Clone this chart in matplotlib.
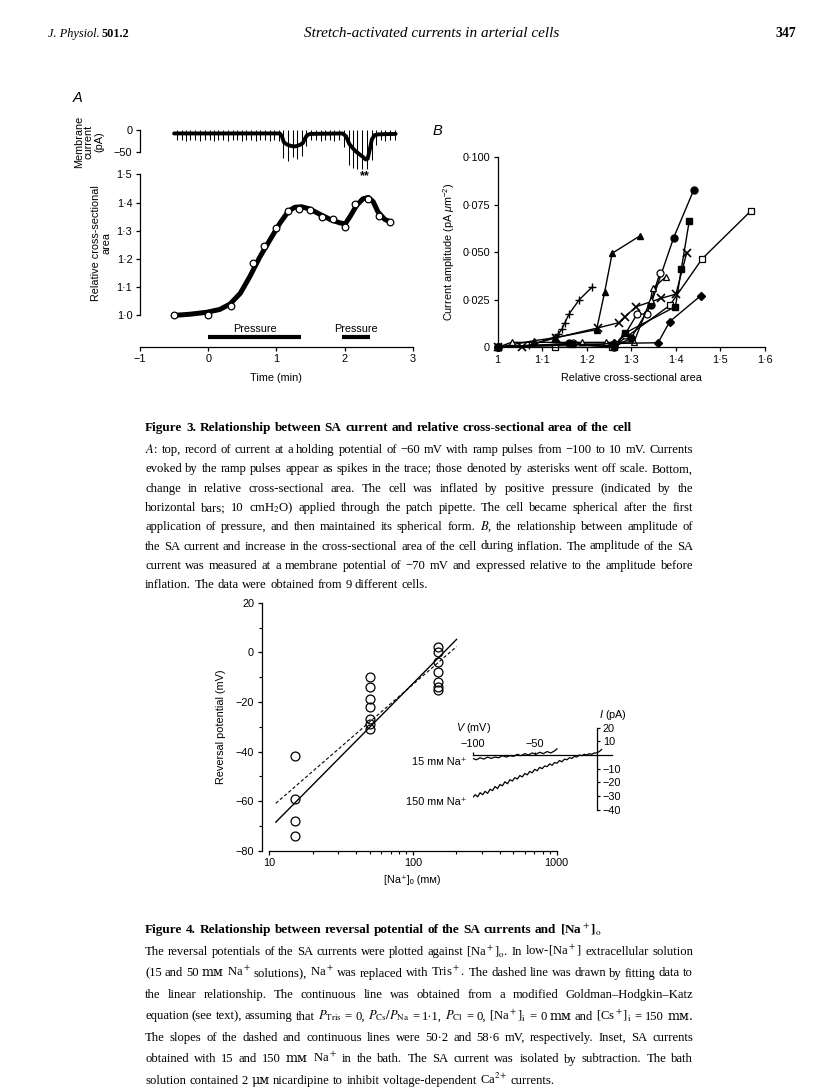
import matplotlib
matplotlib.use("Agg")
import matplotlib.pyplot as plt

W, H = 816, 1088

# ---------------- Figure 3A, top: membrane current (pA) vs time (min)
trace_t = [-0.5, 1.05, 1.08, 1.11, 1.15, 1.2, 1.25, 1.3, 1.35, 1.39, 1.42, 1.45, 1.5,
           1.97, 2.02, 2.07, 2.12, 2.17, 2.22, 2.27, 2.31, 2.34, 2.37, 2.4, 2.44, 2.5, 2.75]
trace_i = [-8, -8, -14, -28, -33, -36, -38, -37, -34, -30, -20, -12, -9,
           -8, -14, -32, -42, -50, -56, -62, -68, -66, -45, -22, -12, -10, -9]
spike_t = [-0.46, -0.39, -0.32, -0.26, -0.19, -0.12, -0.05, 0.02, 0.08, 0.15, 0.22, 0.29,
           0.36, 0.42, 0.49, 0.56, 0.63, 0.70, 0.76, 0.83, 0.90, 0.97, 1.04, 1.10, 1.17, 1.24,
           1.31, 1.38, 1.44, 1.51, 1.58, 1.65, 1.72, 1.78, 1.85, 1.92, 1.99, 2.06, 2.12, 2.19,
           2.26, 2.33, 2.40, 2.46, 2.53, 2.60, 2.67, 2.74]
spike_low = [-24, -23, -25, -24, -23, -25, -24, -24, -25, -23, -24, -25, -24, -23, -25, -24,
             -24, -25, -23, -24, -25, -24, -26, -64, -72, -62, -68, -60, -38, -24, -23, -25,
             -24, -24, -25, -23, -40, -80, -88, -90, -90, -89, -70, -35, -24, -25, -23, -24]
spike_top = -1

# ---------------- Figure 3A, bottom: relative cross-sectional area
area_t = [-0.5, 0.0, 0.33, 0.66, 0.82, 1.0, 1.17, 1.33, 1.5, 1.67, 1.83, 2.0, 2.16, 2.34, 2.5, 2.67]
area_v = [1.0, 1.002, 1.032, 1.187, 1.245, 1.31, 1.371, 1.377, 1.372, 1.349, 1.342, 1.314,
          1.396, 1.414, 1.353, 1.331]
fit_t = [-0.5, -0.27, -0.02, 0.17, 0.32, 0.47, 0.61, 0.76, 0.91, 1.05, 1.18, 1.27, 1.37, 1.49,
         1.64, 1.79, 1.93, 2.01, 2.08, 2.18, 2.27, 2.35, 2.42, 2.49, 2.59, 2.67]
fit_v = [1.0, 1.004, 1.011, 1.021, 1.04, 1.078, 1.137, 1.208, 1.269, 1.326, 1.37, 1.383, 1.385,
         1.377, 1.358, 1.34, 1.328, 1.324, 1.35, 1.391, 1.413, 1.418, 1.403, 1.367, 1.34, 1.332]
press_on = [0.0, 1.97]
press_off = [1.36, 2.37]

# ---------------- Figure 3B: current amplitude vs relative area (9 cells)
b_plus_x = [1.0, 1.07, 1.125, 1.136, 1.144, 1.151, 1.16, 1.183, 1.211]
b_plus_y = [0, 0.001, 0.005, 0.007, 0.0095, 0.013, 0.0175, 0.025, 0.0315]
b_trif_x = [1.0, 1.082, 1.128, 1.222, 1.24, 1.257, 1.319]
b_trif_y = [0, 0.0035, 0.005, 0.0093, 0.029, 0.0495, 0.0586]
b_cross_x = [1.0, 1.055, 1.13, 1.225, 1.272, 1.285, 1.311, 1.367, 1.40, 1.424]
b_cross_y = [0, 0.0, 0.005, 0.0102, 0.013, 0.016, 0.0214, 0.0258, 0.028, 0.0495]
b_circf_x = [1.0, 1.16, 1.26, 1.30, 1.343, 1.395, 1.44]
b_circf_y = [0, 0.002, 0.0, 0.005, 0.022, 0.0577, 0.0828]
b_sqo_x = [1.0, 1.128, 1.257, 1.386, 1.459, 1.568]
b_sqo_y = [0, 0.0, 0.0, 0.022, 0.0466, 0.0717]
b_circo_x = [1.0, 1.17, 1.262, 1.285, 1.313, 1.335, 1.364]
b_circo_y = [0, 0.002, 0.001, 0.0065, 0.0175, 0.0175, 0.039]
b_trio_x = [1.0, 1.031, 1.19, 1.243, 1.306, 1.343, 1.348, 1.377]
b_trio_y = [0, 0.0026, 0.0026, 0.0026, 0.0028, 0.025, 0.031, 0.037]
b_dia_x = [1.0, 1.26, 1.36, 1.386, 1.456]
b_dia_y = [0, 0.002, 0.0024, 0.0135, 0.0272]
b_sqf_x = [1.0, 1.166, 1.26, 1.285, 1.399, 1.412, 1.43]
b_sqf_y = [0, 0.0016, 0.0003, 0.0074, 0.0214, 0.041, 0.0665]

# ---------------- Figure 4: reversal potential vs [Na]o
na_x = [15, 15, 15, 15, 50, 50, 50, 50, 50, 50, 50, 150, 150, 150, 150, 150, 150, 150]
erev = [-42, -59, -68, -74, -10, -14, -19, -22, -27, -29, -31, 2, 0, -4, -8, -12, -14, -15]
solid_x = [11.1, 201]
solid_y = [-68.5, 5.2]
dash_x = [11.1, 201]
dash_y = [-60.9, 2.3]

# inset I-V traces
v15 = [-100, -97, -94, -91, -88, -85, -82, -79, -76, -73, -70, -67, -64, -61, -58, -55,
       -52, -49, -46, -43, -40, -37, -34, -32]
i15 = [-2.5, -3.5, -2.0, -3.0, -1.5, -2.5, -1.5, -2.0, -0.5, -1.5, -0.5, -1.0, 0.5, -0.5,
       1.0, 0.0, 1.5, 0.5, 2.0, 1.0, 2.5, 1.5, 3.0, 4.5]
v150 = [-100, -98, -96, -94, -92, -90, -88, -86, -84, -82, -80, -78, -76, -74, -72, -70,
        -68, -66, -64, -62, -60, -58, -56, -54, -52, -50, -48, -46, -44, -42, -40, -38,
        -36, -34, -32, -30, -28, -26, -24, -22, -20, -18, -16, -14, -12, -10, -8, -6, -4,
        -2, 0, 2, 4]
i150 = [-31, -29, -30.5, -27.5, -29, -26.5, -28, -25, -26, -23, -24.5, -21.5, -22.5, -19.5,
        -21, -18, -19, -16.5, -17.5, -15, -16, -13.5, -14.5, -12, -13, -10.5, -11.5, -9, -10,
        -8, -8.5, -6.5, -7.5, -5.5, -6, -4, -5, -3, -3.5, -2, -2.5, -1, -1.5, 0, -0.5, 0.5,
        0, 1, 0.5, 1.5, 1.5, 2.5, 4]

# ---------------- captions
fig3_title = "Figure 3. Relationship between SA current and relative cross-sectional area of the cell"
fig3_body = [
    "$A$: top, record of current at a holding potential of −60 mV with ramp pulses from −100 to 10 mV. Currents",
    "evoked by the ramp pulses appear as spikes in the trace; those denoted by asterisks went off scale. Bottom,",
    "change in relative cross-sectional area. The cell was inflated by positive pressure (indicated by the",
    "horizontal bars; 10 cmH$_2$O) applied through the patch pipette. The cell became spherical after the first",
    "application of pressure, and then maintained its spherical form. $B$, the relationship between amplitude of",
    "the SA current and increase in the cross-sectional area of the cell during inflation. The amplitude of the SA",
    "current was measured at a membrane potential of −70 mV and expressed relative to the amplitude before",
    "inflation. The data were obtained from 9 different cells.",
]
fig4_title = "Figure 4. Relationship between reversal potential of the SA currents and [Na$^+$]$_\\mathrm{o}$"
fig4_body = [
    "The reversal potentials of the SA currents were plotted against [Na$^+$]$_\\mathrm{o}$. In low-[Na$^+$] extracellular solution",
    "(15 and 50 mᴍ Na$^+$ solutions), Na$^+$ was replaced with Tris$^+$. The dashed line was drawn by fitting data to",
    "the linear relationship. The continuous line was obtained from a modified Goldman–Hodgkin–Katz",
    "equation (see text), assuming that $P_\\mathrm{Tris}$ = 0, $P_\\mathrm{Cs}/P_\\mathrm{Na}$ = 1·1, $P_\\mathrm{Cl}$ = 0, [Na$^+$]$_\\mathrm{i}$ = 0 mᴍ and [Cs$^+$]$_\\mathrm{i}$ = 150 mᴍ.",
    "The slopes of the dashed and continuous lines were 50·2 and 58·6 mV, respectively. Inset, SA currents",
    "obtained with 15 and 150 mᴍ Na$^+$ in the bath. The SA current was isolated by subtraction. The bath",
    "solution contained 2 μᴍ nicardipine to inhibit voltage-dependent Ca$^{2+}$ currents.",
]

plt.rcParams['font.family'] = ['Liberation Sans', 'DejaVu Sans']
plt.rcParams['font.size'] = 7.8
plt.rcParams['mathtext.fontset'] = 'custom'
plt.rcParams['mathtext.rm'] = 'Liberation Sans'
plt.rcParams['mathtext.it'] = 'Liberation Sans:italic'
plt.rcParams['axes.linewidth'] = 0.9
for a in ('xtick', 'ytick'):
    plt.rcParams[a + '.major.width'] = 0.9
    plt.rcParams[a + '.minor.width'] = 0.8
    plt.rcParams[a + '.major.size'] = 3
    plt.rcParams[a + '.minor.size'] = 2
    plt.rcParams[a + '.major.pad'] = 2.5

fig = plt.figure(figsize=(W / 100, H / 100), dpi=100)
X0, X1 = 145, 693
TITLE_W = 487
rend = fig.canvas.get_renderer()


def px_axes(x0, y0, x1, y1):
    return fig.add_axes([x0 / W, 1 - y1 / H, (x1 - x0) / W, (y1 - y0) / H])


def ftext(x, y, s, **kw):
    return fig.text(x / W, 1 - y / H, s, **kw)


def plain(ax):
    ax.spines['top'].set_visible(False)
    ax.spines['right'].set_visible(False)
    ax.patch.set_visible(False)


def serif_for(word):
    # only the few words with small-cap M or mu need the DejaVu fallback
    if any(c in word for c in 'ᴍμ'):
        return ['DejaVu Serif', 'DejaVu Sans']
    return 'Liberation Serif'


def make_word(w, y, size, **kw):
    return ftext(0, y, w, fontsize=size, family=serif_for(w), math_fontfamily='stix',
                 va='baseline', ha='left', **kw)


def word_widths(s, size, **kw):
    out = []
    for w in s.split(' '):
        t = make_word(w, 0, size, **kw)
        out.append(t.get_window_extent(rend).width)
        t.remove()
    return out


def fit_size(lines, cap, min_space=0.24):
    # largest common size at which every justified line still fits
    best = cap
    for s in lines:
        ws = word_widths(s, 10)
        need = sum(ws) + min_space * 10 * 100 / 72 * (len(ws) - 1)
        best = min(best, 10 * (X1 - X0) / need)
    return round(best, 2)


def caption_line(s, y, size, justify=True, **kw):
    objs = [make_word(w, y, size, **kw) for w in s.split(' ')]
    widths = [t.get_window_extent(rend).width for t in objs]
    if justify and len(objs) > 1:
        gap = (X1 - X0 - sum(widths)) / (len(objs) - 1)
    else:
        gap = size * 100 / 72 * 0.27
    x = X0
    for t, w in zip(objs, widths):
        t.set_x(x / W)
        x += w + gap


# ---- page header
hj = ftext(48, 37, "J. Physiol.", family='Liberation Serif', style='italic', fontsize=8.8, va='baseline')
hx = 48 + hj.get_window_extent(rend).width + 2
ftext(hx, 37, "501.2", family='Liberation Serif', weight='bold', fontsize=8.8, va='baseline')
ftext(432, 37, "Stretch-activated currents in arterial cells", family='Liberation Serif',
      style='italic', fontsize=11, ha='center', va='baseline')
ftext(796, 37, "347", family='Liberation Serif', weight='bold', fontsize=10, ha='right', va='baseline')

ftext(78, 98, "A", style='italic', fontsize=10.5, ha='center', va='center')
ftext(437, 131, "B", style='italic', fontsize=10.5, ha='center', va='center')

# ---- Fig 3A top
ax1 = px_axes(140, 118, 412.7, 172)
plain(ax1)
ax1.spines['bottom'].set_visible(False)
ax1.set_xlim(-1, 3)
ax1.set_ylim(-96.8, 27.6)
ax1.spines['left'].set_bounds(-50, 0)
ax1.set_xticks([])
ax1.set_yticks([0, -50], ['0', '−50'])
ax1.plot(trace_t, trace_i, color='k', lw=2.8, solid_joinstyle='round', solid_capstyle='round')
ax1.vlines(spike_t, spike_low, spike_top, color='k', lw=0.75, clip_on=False)
ax1.text(2.30, -106, "**", ha='center', va='center', fontsize=9, weight='bold')
ftext(89, 141.7, "Membrane\ncurrent\n(pA)", rotation=90, ha='center', va='center',
      multialignment='center', linespacing=1.0)

# ---- Fig 3A bottom
ax2 = px_axes(140, 174.3, 412.7, 346.7)
plain(ax2)
ax2.set_xlim(-1, 3)
ax2.set_ylim(0.889, 1.5)
ax2.spines['left'].set_bounds(1.0, 1.5)
ax2.set_xticks([-1, 0, 1, 2, 3], ['−1', '0', '1', '2', '3'])
ax2.set_yticks([1.0, 1.1, 1.2, 1.3, 1.4, 1.5], ['1·0', '1·1', '1·2', '1·3', '1·4', '1·5'])
ax2.plot(fit_t, fit_v, color='k', lw=3.6, solid_joinstyle='round', solid_capstyle='round')
ax2.plot(area_t, area_v, 'o', ms=4.8, mfc='white', mec='k', mew=0.9, clip_on=False)
ax2.hlines([0.924] * len(press_on), press_on, press_off, color='k', lw=3)
for a, b in zip(press_on, press_off):
    ax2.text((a + b) / 2, 0.951, "Pressure", ha='center', va='center')
ftext(276, 378, "Time (min)", ha='center', va='center')
ftext(101, 243, "Relative cross-sectional\narea", rotation=90, ha='center', va='center',
      multialignment='center', linespacing=1.05)

# ---- Fig 3B
ax3 = px_axes(497.7, 157.3, 765, 347.3)
plain(ax3)
ax3.set_xlim(1, 1.6)
ax3.set_ylim(0, 0.1)
ax3.set_xticks([1, 1.1, 1.2, 1.3, 1.4, 1.5, 1.6], ['1', '1·1', '1·2', '1·3', '1·4', '1·5', '1·6'])
ax3.set_yticks([0, 0.025, 0.05, 0.075, 0.1], ['0', '0·025', '0·050', '0·075', '0·100'])
kw = dict(color='k', lw=1.0, clip_on=False)
ax3.plot(b_plus_x, b_plus_y, marker='+', ms=6, mew=1.0, **kw)
ax3.plot(b_trif_x, b_trif_y, marker='^', ms=5, mfc='k', mec='k', **kw)
ax3.plot(b_cross_x, b_cross_y, marker='x', ms=5.5, mew=1.2, **kw)
ax3.plot(b_circf_x, b_circf_y, marker='o', ms=5, mfc='k', mec='k', **kw)
ax3.plot(b_sqo_x, b_sqo_y, marker='s', ms=5, mfc='white', mec='k', mew=0.9, **kw)
ax3.plot(b_circo_x, b_circo_y, marker='o', ms=5, mfc='white', mec='k', mew=0.9, **kw)
ax3.plot(b_trio_x, b_trio_y, marker='^', ms=5, mfc='white', mec='k', mew=0.9, **kw)
ax3.plot(b_dia_x, b_dia_y, marker='D', ms=3.6, mfc='k', mec='k', **kw)
ax3.plot(b_sqf_x, b_sqf_y, marker='s', ms=5, mfc='k', mec='k', **kw)
ftext(631, 378, "Relative cross-sectional area", ha='center', va='center')
ftext(449, 252, "Current amplitude (pA $\\mathit{\\mu}$m$^{-2}$)", rotation=90, ha='center', va='center')

# ---- Fig 4
ax4 = px_axes(269.3, 602.7, 556.7, 850.7)
plain(ax4)
ax4.spines['left'].set_position(('outward', 5.5))
ax4.set_xscale('log')
ax4.set_xlim(10, 1000)
ax4.set_ylim(-80, 20)
ax4.set_xticks([10, 100, 1000], ['10', '100', '1000'])
ax4.set_xticks([20, 30, 40, 50, 60, 70, 80, 90, 200, 300, 400, 500, 600, 700, 800, 900], minor=True)
ax4.xaxis.set_minor_formatter(plt.NullFormatter())
ax4.set_yticks([20, 0, -20, -40, -60, -80], ['20', '0', '−20', '−40', '−60', '−80'])
ax4.set_yticks([10, -10, -30, -50, -70], minor=True)
ax4.plot(solid_x, solid_y, color='k', lw=1.0)
ax4.plot(dash_x, dash_y, color='k', lw=0.8, dashes=(3, 2))
ax4.plot(na_x, erev, 'o', ms=6.4, mfc='none', mec='k', mew=0.9, clip_on=False)
ftext(220.7, 727, "Reversal potential (mV)", rotation=90, ha='center', va='center')
ftext(412, 880, "[Na⁺]ₒ (mᴍ)", ha='center', va='center')

# inset
axi = px_axes(472.7, 727.6, 611.6, 809.8)
axi.patch.set_visible(False)
axi.set_xlim(-100, 12)
axi.set_ylim(-40, 20)
axi.spines['bottom'].set_visible(False)
axi.spines['left'].set_visible(False)
axi.spines['top'].set_position(('data', 0))
axi.spines['right'].set_position(('data', 0))
axi.xaxis.set_ticks_position('top')
axi.yaxis.set_ticks_position('right')
axi.set_xticks([-100, -50], ['−100', '−50'])
axi.set_yticks([20, 10, -10, -20, -30, -40], ['20', '10', '−10', '−20', '−30', '−40'])
axi.tick_params(length=2.5, pad=2)
axi.plot(v15, i15, color='k', lw=0.9)
axi.plot(v150, i150, color='k', lw=0.9)
ftext(474, 728, "$V$ (mV)", ha='center', va='center')
ftext(613, 715, "$I$ (pA)", ha='center', va='center')
ftext(467, 762, "15 mᴍ Na⁺", ha='right', va='center')
ftext(467, 802, "150 mᴍ Na⁺", ha='right', va='center')

# ---- captions: one common size for every justified line
CAP = fit_size(fig3_body[:-1] + fig4_body[:-1], 9.6)
tw = sum(word_widths(fig3_title, 10, weight='bold')) + 0.27 * 10 * 100 / 72 * (fig3_title.count(' '))
TSZ = round(10 * TITLE_W / tw, 2)
caption_line(fig3_title, 431, TSZ, justify=False, weight='bold')
for k, line in enumerate(fig3_body):
    caption_line(line, 453 + 19.3 * k, CAP, justify=k < len(fig3_body) - 1)
caption_line(fig4_title, 933, TSZ, justify=False, weight='bold')
for k, line in enumerate(fig4_body):
    caption_line(line, 955 + 21.5 * k, CAP, justify=k < len(fig4_body) - 1)

fig.savefig("out.png", dpi=100)
